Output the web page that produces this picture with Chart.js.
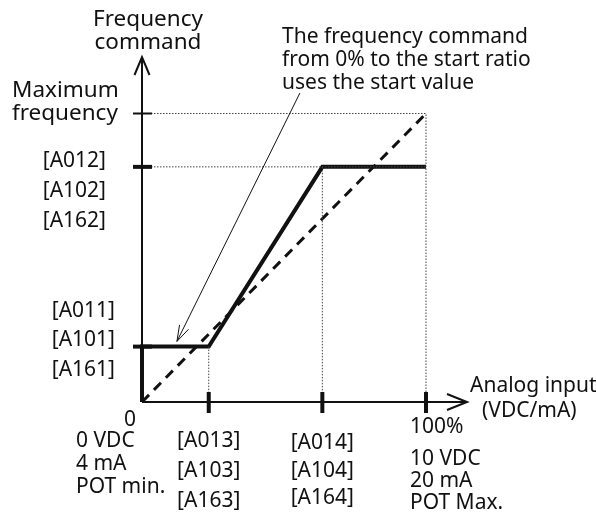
<!DOCTYPE html>
<html>
<head>
<meta charset="utf-8">
<script src="https://cdn.jsdelivr.net/npm/chart.js@4.4.0/dist/chart.umd.min.js"></script>
<style>
  html, body { margin: 0; padding: 0; background: #fff; }
  canvas { display: block; }
</style>
</head>
<body>
<canvas id="chart" width="596" height="518"></canvas>
<script>
// analog input (% of full scale) vs frequency command (% of max frequency)
const startRatio = 23.5;   // [A013]
const endRatio = 63.5;     // [A014]
const startValue = 19.2;   // [A011]
const endValue = 81.5;     // [A012]
const maxValue = 100;

const commandX = [0, 0, startRatio, endRatio, 100];
const commandY = [0, startValue, startValue, endValue, endValue];
const linearX = [0, 100];
const linearY = [0, maxValue];

const xTicks = [startRatio, endRatio, 100];
const xTickLabels = [
  ["[A013]", "[A103]", "[A163]"],
  ["[A014]", "[A104]", "[A164]"],
  ["10 VDC", "20 mA", "POT Max."]
];
const yTicks = [maxValue, endValue, startValue];
const yTickLabels = [
  ["Maximum", "frequency"],
  ["[A012]", "[A102]", "[A162]"],
  ["[A011]", "[A101]", "[A161]"]
];
const noteLines = ["The frequency command", "from 0% to the start ratio", "uses the start value"];
const notePoint = { from: [55.6, 107.1], to: [12.3, 21] };

const FONT = '21px "Noto Sans", sans-serif';
const BIG_FONT = '22.5px "Noto Sans", sans-serif';
const INK = "#111";

const toPoints = (xs, ys) => xs.map((x, i) => ({ x: x, y: ys[i] }));

// dotted guide lines from the axes to the break points
const guides = [
  toPoints([0, 100, 100], [maxValue, maxValue, 0]),
  toPoints([0, 100], [endValue, endValue]),
  toPoints([endRatio, endRatio], [endValue, 0]),
  toPoints([startRatio, startRatio], [startValue, 0])
];

function drawLines(ctx, lines, x, y, align, step) {
  ctx.textAlign = align;
  lines.forEach((t, i) => ctx.fillText(t, x, y + i * step));
}

function openArrow(ctx, x0, y0, x1, y1, len, half) {
  const a = Math.atan2(y1 - y0, x1 - x0);
  const bx = x1 - len * Math.cos(a), by = y1 - len * Math.sin(a);
  const nx = -Math.sin(a) * half, ny = Math.cos(a) * half;
  ctx.beginPath();
  ctx.moveTo(bx + nx, by + ny);
  ctx.lineTo(x1, y1);
  ctx.lineTo(bx - nx, by - ny);
  ctx.stroke();
}

const axesPlugin = {
  id: "axesPlugin",
  afterDatasetsDraw(chart) {
    const ctx = chart.ctx;
    const xs = chart.scales.x, ys = chart.scales.y;
    const x0 = xs.getPixelForValue(0), y0 = ys.getPixelForValue(0);
    ctx.save();
    ctx.strokeStyle = INK;
    ctx.fillStyle = INK;
    ctx.lineCap = "butt";

    // axes
    ctx.lineWidth = 2;
    ctx.beginPath();
    ctx.moveTo(x0, y0);
    ctx.lineTo(x0, 57);
    ctx.moveTo(x0, y0);
    ctx.lineTo(467, y0);
    ctx.stroke();
    openArrow(ctx, x0, y0, x0, 57, 18, 7.5);
    openArrow(ctx, x0, y0, 467, y0, 20, 8);

    // ticks
    yTicks.forEach((v, i) => {
      const py = ys.getPixelForValue(v);
      ctx.lineWidth = i === 0 ? 2 : 4;
      ctx.beginPath();
      ctx.moveTo(x0 - 9, py);
      ctx.lineTo(x0 + 10, py);
      ctx.stroke();
    });
    ctx.lineWidth = 4;
    xTicks.forEach(v => {
      const px = xs.getPixelForValue(v);
      ctx.beginPath();
      ctx.moveTo(px, y0 - 10);
      ctx.lineTo(px, y0 + 11);
      ctx.stroke();
    });

    // note leader
    ctx.lineWidth = 1;
    const ax = xs.getPixelForValue(notePoint.from[0]), ay = ys.getPixelForValue(notePoint.from[1]);
    const bx = xs.getPixelForValue(notePoint.to[0]), by = ys.getPixelForValue(notePoint.to[1]);
    ctx.beginPath();
    ctx.moveTo(ax, ay);
    ctx.lineTo(bx, by);
    ctx.stroke();
    openArrow(ctx, ax, ay, bx, by, 16, 5);

    // texts
    ctx.textBaseline = "alphabetic";
    ctx.font = BIG_FONT;
    drawLines(ctx, ["Frequency", "command"], 148, 26, "center", 23);
    const yMax = ys.getPixelForValue(yTicks[0]);
    drawLines(ctx, yTickLabels[0], 12, yMax - 16.5, "left", 23);

    ctx.font = FONT;
    drawLines(ctx, noteLines, 282, 43, "left", 23);
    const yEnd = ys.getPixelForValue(yTicks[1]);
    drawLines(ctx, yTickLabels[1], 106, yEnd, "right", 30);
    const yStart = ys.getPixelForValue(yTicks[2]);
    drawLines(ctx, yTickLabels[2], 115, yStart - 30, "right", 29.5);

    drawLines(ctx, ["0"], x0 - 12, y0 + 24, "center", 0);
    drawLines(ctx, ["0 VDC", "4 mA", "POT min."], 76, y0 + 45, "left", 23);
    drawLines(ctx, xTickLabels[0], xs.getPixelForValue(xTicks[0]), y0 + 45, "center", 30);
    drawLines(ctx, xTickLabels[1], xs.getPixelForValue(xTicks[1]), y0 + 47, "center", 27.5);
    const p100 = xs.getPixelForValue(xTicks[2]);
    drawLines(ctx, ["100%"], p100 - 16, y0 + 31, "left", 0);
    drawLines(ctx, xTickLabels[2], p100 - 16, y0 + 63, "left", 22);

    drawLines(ctx, ["Analog input"], 470, y0 - 10, "left", 0);
    drawLines(ctx, ["(VDC/mA)"], 482, y0 + 15, "left", 0);
    ctx.restore();
  }
};

new Chart(document.getElementById("chart"), {
  type: "scatter",
  data: {
    datasets: [
      ...guides.map(g => ({
        data: g,
        showLine: true,
        borderColor: "#444",
        borderWidth: 1,
        borderDash: [1.5, 1.5],
        pointRadius: 0,
        clip: false
      })),
      {
        data: toPoints(linearX, linearY),
        showLine: true,
        borderColor: INK,
        borderWidth: 3,
        borderDash: [10, 7],
        pointRadius: 0,
        clip: false
      },
      {
        data: toPoints(commandX, commandY),
        showLine: true,
        borderColor: INK,
        borderWidth: 4,
        borderJoinStyle: "miter",
        pointRadius: 0,
        clip: false
      }
    ]
  },
  options: {
    responsive: false,
    animation: false,
    layout: { padding: { left: 142, right: 170, top: 113.5, bottom: 116 } },
    scales: {
      x: { type: "linear", min: 0, max: 100, display: false },
      y: { type: "linear", min: 0, max: 100, display: false }
    },
    plugins: { legend: { display: false }, tooltip: { enabled: false } }
  },
  plugins: [axesPlugin]
});
</script>
</body>
</html>
